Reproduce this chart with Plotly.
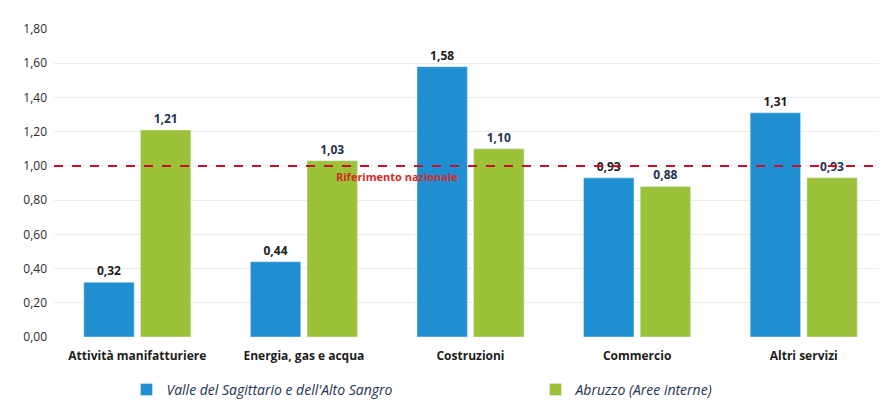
import plotly.graph_objects as go

categories = ["Attività manifatturiere", "Energia, gas e acqua", "Costruzioni", "Commercio", "Altri servizi"]
valle = [0.32, 0.44, 1.58, 0.93, 1.31]
abruzzo = [1.21, 1.03, 1.10, 0.88, 0.93]
series_names = ["Valle del Sagittario e dell'Alto Sangro", "Abruzzo (Aree interne)"]
riferimento = 1.0
y_ticks = [0, 0.2, 0.4, 0.6, 0.8, 1.0, 1.2, 1.4, 1.6, 1.8]

font_family = "Open Sans, Noto Sans, sans-serif"

fig = go.Figure()
fig.add_trace(go.Bar(
    x=categories, y=valle, name="<i>" + series_names[0] + "</i>",
    marker=dict(color="#1f8fd2"),
    texttemplate="<b>%{y:.2f}</b>", textposition="outside",
    textfont=dict(size=12, color="#1c1c1c", family=font_family),
    cliponaxis=False, legend="legend",
))
fig.add_trace(go.Bar(
    x=categories, y=abruzzo, name="<i>" + series_names[1] + "</i>",
    marker=dict(color="#9cc23a"),
    texttemplate="<b>%{y:.2f}</b>", textposition="outside",
    textfont=dict(size=12, color="#1f3350", family=font_family),
    cliponaxis=False, legend="legend2",
))

fig.add_shape(type="line", xref="paper", x0=0, x1=1, yref="y", y0=riferimento, y1=riferimento,
              line=dict(color="#c8102e", width=2, dash="dash"), layer="above")
fig.add_annotation(x=1.56, y=riferimento, xref="x", yref="y", text="<b>Riferimento nazionale</b>",
                   showarrow=False, yshift=-11, font=dict(size=11, color="#d42a2a", family=font_family))

legend_common = dict(orientation="h", yanchor="middle", xanchor="left",
                     font=dict(size=14, color="#1f3350"), bgcolor="rgba(0,0,0,0)",
                     itemwidth=30)

fig.update_layout(
    width=879, height=392,
    margin=dict(l=46, r=0, t=21, b=63, autoexpand=False),
    paper_bgcolor="white", plot_bgcolor="white",
    separators=",.",
    barmode="group", bargap=0.32, bargroupgap=0.11,
    font=dict(family=font_family, color="#222"),
    xaxis=dict(type="category", tickfont=dict(size=12, color="#1c1c1c"), showline=False,
               ticks="", tickprefix="<b>", ticksuffix="</b>", ticklabelstandoff=10),
    yaxis=dict(range=[0, 1.8], tickvals=y_ticks, tickformat=".2f", showgrid=True,
               gridcolor="#ececec", gridwidth=1, zeroline=False,
               tickfont=dict(size=12, color="#2a2a2a"), ticks="", ticklen=0,
               ticklabelstandoff=6),
    legend=dict(x=0.087, y=-0.172, **legend_common),
    legend2=dict(x=0.578, y=-0.172, **legend_common),
    showlegend=True,
)

fig.write_html("out.html")
